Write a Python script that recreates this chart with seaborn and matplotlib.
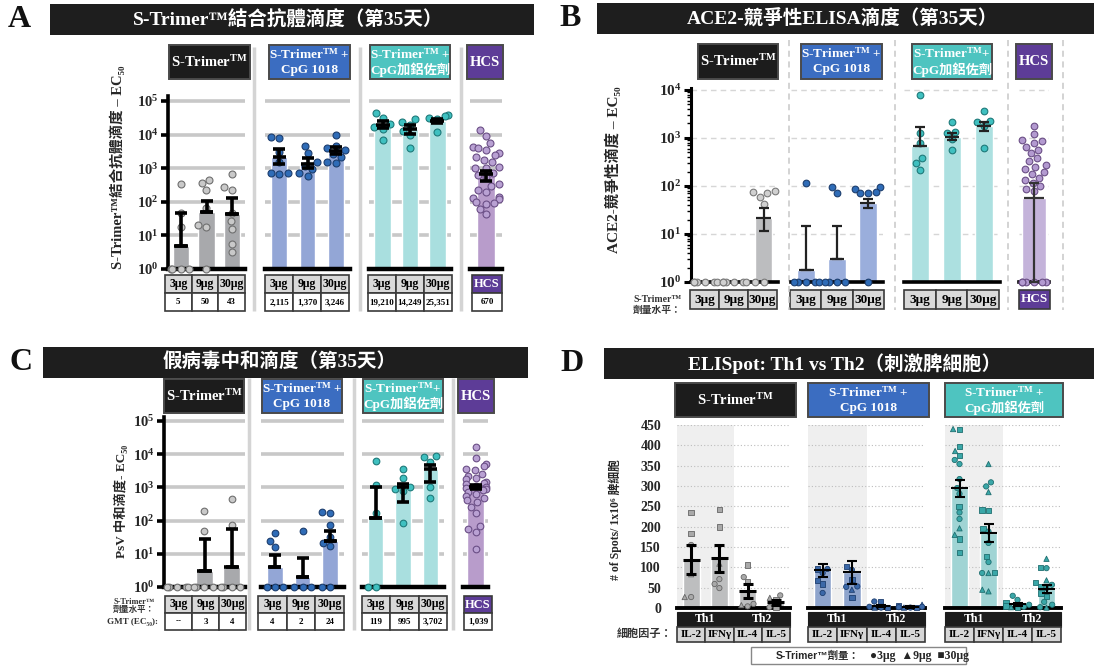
import numpy as np
import pandas as pd
import matplotlib
matplotlib.use("Agg")
import matplotlib.pyplot as plt
from matplotlib.patches import Rectangle
from matplotlib.markers import MarkerStyle
from matplotlib.ticker import LogLocator, NullFormatter, FixedLocator
import seaborn as sns

# ------------------------------------------------------------------ data
DOSES = ["3μg", "9μg", "30μg"]
HCS = ["HCS"]
CYTOKINES = ["IL-2", "IFNγ", "IL-4", "IL-5"]
TM = r"S-Trimer$^{\mathrm{TM}}$"
GROUP_NAMES = [[TM], [TM + " +", "CpG 1018"], [TM + " +", "CpG加鋁佐劑"], ["HCS"]]
GROUP_NAMES_BC = [[TM], [TM + " +", "CpG 1018"], [TM + "+", "CpG加鋁佐劑"], ["HCS"]]

# Panel A: S-Trimer binding antibody titre (EC50), day 35
A_GMT = [[5, 50, 43], [2115, 1370, 3246], [19210, 14249, 25351], [670]]
A_LOW = [[5, 50, 43], [1300, 1000, 2700], [15500, 10500, 21500], [420]]
A_HIGH = [[45, 105, 127], [3700, 1950, 4400], [25000, 19000, 30000], [800]]
A_TRIMER = [[350, 47, 18, 1, 1, 1, 1], [450, 360, 230, 65, 20, 18, 1],
            [660, 280, 225, 47, 26, 15, 5.4, 3.1]]
A_CPG = [[8500, 7800, 3000, 1500, 700, 660, 720], [4700, 2750, 1500, 1180, 940, 600, 700],
         [9800, 4700, 3900, 3500, 2650, 2200, 1500, 1400]]
A_ALUM = [[43000, 32000, 20500, 17000, 15000, 6900], [29000, 24000, 19000, 13000, 9700, 3900],
          [38000, 36000, 32000, 30000, 12000]]
A_HCS = [[13500, 8900, 5600, 4200, 4000, 3500, 2800, 2500, 2200, 1740, 1500, 1100, 1050, 1000,
          740, 630, 560, 350, 300, 225, 190, 140, 130, 120, 100, 95, 85, 60, 42]]

# Panel B: ACE2-competitive ELISA titre (EC50), day 35
B_MEAN = [[np.nan, np.nan, 22], [1.8, 3.0, 44], [680, 1070, 1800], [57]]
B_LOW = [[np.nan, np.nan, 11.5], [1.8, 3.0, 34], [680, 910, 1380], [1]]
B_HIGH = [[np.nan, np.nan, 35], [15, 15, 53], [1700, 1290, 2130], [115]]
B_TRIMER = [[1, 1, 1, 1, 1, 1], [1, 1, 1, 1, 1, 1], [80, 75, 72, 60, 43, 1, 1]]
B_CPG = [[117, 1, 1, 1, 1, 1], [93, 70, 1, 1, 1, 1], [96, 88, 76, 73, 70, 1]]
B_ALUM = [[7900, 1240, 770, 375, 295, 215], [2180, 1350, 1250, 930, 560],
          [3640, 2290, 2100, 1800, 630]]
B_HCS = [[1780, 1200, 910, 850, 800, 660, 560, 480, 380, 330, 275, 250, 225, 200, 178, 150,
          132, 115, 98, 85, 78, 1, 1, 1, 1, 1, 1]]

# Panel C: pseudovirus neutralising titre (EC50), day 35
C_GMT = [[np.nan, 3, 4], [4, 2, 24], [119, 995, 3702], [1039]]
C_LOW = [[np.nan, 3, 4], [4, 2, 24], [119, 355, 1480], [900]]
C_HIGH = [[np.nan, 27.5, 56], [9.3, 7.4, 49], [1050, 1300, 4570], [1200]]
C_TRIMER = [[1, 1, 1, 1, 1], [195, 49, 1, 1, 1, 1], [450, 74, 1, 1, 1, 1]]
C_CPG = [[42, 25, 16, 1, 1, 1], [50, 1, 1, 1], [178, 165, 74, 31, 21, 17, 1, 1]]
C_ALUM = [[6300, 1170, 166, 1, 1], [3700, 1860, 1050, 890, 790, 83],
          [8700, 8300, 5900, 1050, 470]]
C_HCS = [[16600, 7900, 5200, 4400, 3700, 3300, 2600, 2200, 1900, 1740, 1500, 1400, 1260, 1100,
          1000, 950, 900, 820, 740, 640, 560, 480, 420, 360, 260, 166, 69, 55, 44, 14]]

# Panel D: ELISpot spots per 1x10^6 splenocytes (mean, SEM limits, animals and their dose)
D_MEAN = [[119, 122, 43, 14], [94, 88, 4, 3], [295, 184, 9, 47]]
D_LOW = [[84, 88, 25, 8], [76, 59, 2, 1], [272, 162, 5, 38]]
D_HIGH = [[154, 156, 60, 20], [109, 115, 7, 5], [315, 206, 13, 57]]
D_TRIMER = [[235, 184, 155, 83, 27, 27], [243, 199, 109, 71, 59, 49],
            [106, 76, 64, 10, 7, 4], [31, 25, 20, 2, 2]]
D_TRIMER_DOSE = [[30, 30, 3, 9, 9, 3], [30, 30, 9, 3, 3, 3], [30, 3, 30, 3, 9, 3], [3, 9, 30, 30, 3]]
D_CPG = [[96, 86, 96, 67, 59, 37], [102, 94, 70, 52, 53, 45, 25], [16, 16, 3, 2, 1, 1],
         [8, 5, 3, 2, 1, 1, 2]]
D_CPG_DOSE = [[3, 3, 30, 30, 30, 3], [30, 3, 30, 3, 3, 9, 30], [30, 3, 3, 30, 9, 3],
              [9, 30, 3, 30, 9, 3, 3]]
D_ALUM = [[440, 439, 398, 386, 375, 364, 354, 317, 295, 281, 250, 235, 219, 196, 180, 170, 137],
          [354, 309, 299, 285, 241, 240, 196, 188, 160, 127, 113, 88, 86, 86, 45, 41],
          [30, 20, 12, 8, 5, 3, 2, 1],
          [121, 100, 98, 68, 63, 57, 53, 49, 37, 29, 15, 8, 2, 1]]
D_ALUM_DOSE = [[9, 30, 30, 9, 30, 3, 3, 3, 3, 3, 30, 3, 3, 9, 9, 30, 30],
               [9, 3, 3, 9, 30, 30, 30, 3, 3, 30, 3, 30, 3, 9, 9, 9],
               [3, 3, 30, 3, 30, 3, 9, 30],
               [9, 30, 3, 9, 30, 3, 30, 3, 30, 30, 3, 3, 3, 9]]

# ------------------------------------------------------------------ style
sns.set_style("white")
plt.rcParams["font.family"] = ["Liberation Serif", "Noto Sans CJK TC", "DejaVu Sans"]
plt.rcParams["font.weight"] = "bold"
plt.rcParams["mathtext.fontset"] = "custom"
plt.rcParams["mathtext.rm"] = "Liberation Serif:bold"
plt.rcParams["mathtext.it"] = "Liberation Serif:italic:bold"
plt.rcParams["mathtext.bf"] = "Liberation Serif:bold"

HEAD_COLORS = ["#1c1c1c", "#3b6dc1", "#4ec4c0", "#5d3c97"]
W, H = 1094, 667
fig = plt.figure(figsize=(W / 100, H / 100), dpi=100)
deco = fig.add_axes([0, 0, 1, 1], zorder=0)
deco.set_xlim(0, W)
deco.set_ylim(H, 0)
deco.set_axis_off()


def px_axes(x0, y0, x1, y1):
    ax = fig.add_axes([x0 / W, 1 - y1 / H, (x1 - x0) / W, (y1 - y0) / H], zorder=2)
    ax.set_facecolor("none")
    return ax


def box(x0, y0, x1, y1, fc, text="", tc="white", fs=10, ec="#4a4a4a", lw=1.4):
    deco.add_patch(Rectangle((x0, y0), x1 - x0, y1 - y0, facecolor=fc, edgecolor=ec, lw=lw))
    lines = text if isinstance(text, list) else ([text] if text else [])
    step = fs * 100 / 72 * 1.2
    yc = (y0 + y1) / 2 - step * (len(lines) - 1) / 2
    for k, line in enumerate(lines):
        deco.text((x0 + x1) / 2, yc + k * step, line, color=tc, fontsize=fs, ha="center",
                  va="center", fontweight="bold")


def cells(x0, x1, y0, y1, labels, fc="#d9d9d9", tc="black", fs=9):
    w = (x1 - x0) / len(labels)
    for i, lab in enumerate(labels):
        box(x0 + i * w, y0, x0 + (i + 1) * w, y1, fc, lab, tc, fs, ec="#3a3a3a", lw=1.2)


def title_bar(x0, y0, x1, y1, tx, text, letter, lx):
    deco.add_patch(Rectangle((x0, y0), x1 - x0, y1 - y0, facecolor="#1e1e1e", edgecolor="none"))
    deco.text(tx, (y0 + y1) / 2, text, color="white", fontsize=14, ha="center", va="center",
              fontweight="bold")
    deco.text(lx, (y0 + y1) / 2, letter, color="#111111", fontsize=23, ha="center",
              va="center", fontweight="bold")


def headers(spans, y0, y1, names, colors):
    for (x0, x1), name, col in zip(spans, names, colors):
        fs = 10.5 if len(name) == 1 else 9.5
        box(x0, y0, x1, y1, col, name, "white", fs)


def fmt_gmt(v):
    return "--" if np.isnan(v) else f"{int(v):,}"


def titre_group(ax, cats, mean, low, high, pts, bar_c, pt_c, pt_ec, width, psize, elw, cap,
                ylim, grid_kw, base_lw, err_c="black"):
    ax.set_yscale("log")
    sns.barplot(x=cats, y=mean, order=cats, color=bar_c, saturation=1, width=width,
                errorbar=None, ax=ax, zorder=1)
    df = pd.DataFrame({"dose": [c for c, p in zip(cats, pts) for _ in p],
                       "titre": [v for p in pts for v in p]})
    sns.swarmplot(data=df, x="dose", y="titre", order=cats, color=pt_c, edgecolor=pt_ec,
                  linewidth=0.8, size=psize, ax=ax, zorder=3, warn_thresh=1)
    x = np.arange(len(cats))
    g = np.asarray(mean, float)
    lo = np.asarray(low, float)
    hi = np.asarray(high, float)
    ax.errorbar(x, g, yerr=[g - lo, hi - g], fmt="none", ecolor=err_c, elinewidth=elw,
                capsize=cap, capthick=elw, zorder=4, clip_on=False)
    ax.hlines(g, x - width * 0.42, x + width * 0.42, colors=err_c, lw=elw, zorder=4)
    ax.set_xlim(-0.5, len(cats) - 0.5)
    ax.set_ylim(*ylim)
    ax.set_xlabel("")
    ax.set_ylabel("")
    ax.tick_params(axis="x", which="both", bottom=False, labelbottom=False)
    decades = [10.0 ** k for k in range(0, int(np.floor(np.log10(ylim[1]))) + 1)]
    ax.yaxis.set_major_locator(FixedLocator(decades))
    ax.yaxis.set_minor_locator(LogLocator(base=10, subs=np.arange(2, 10)))
    ax.yaxis.set_minor_formatter(NullFormatter())
    ax.set_axisbelow(True)
    ax.grid(axis="y", which="major", **grid_kw)
    ax.grid(axis="y", which="minor", visible=False)
    for s in ("top", "right", "left"):
        ax.spines[s].set_visible(False)
    ax.spines["bottom"].set_color("black")
    ax.spines["bottom"].set_linewidth(base_lw)
    ax.tick_params(axis="y", which="both", left=False, labelleft=False)
    for c in ax.collections:
        c.set_clip_on(False)
    return decades


def log_axis(ax, decades, fs, lw):
    ax.spines["left"].set_visible(True)
    ax.spines["left"].set_color("black")
    ax.spines["left"].set_linewidth(lw)
    ax.tick_params(axis="y", which="major", left=True, labelleft=True, length=5, width=lw,
                   direction="out", labelsize=fs, pad=2, color="black")
    ax.tick_params(axis="y", which="minor", left=True, length=3, width=1, color="black")
    ax.set_yticks(decades)
    ax.set_yticklabels([f"$10^{{{int(round(np.log10(d)))}}}$" for d in decades])


def titre_panel(xs, ytop, ybot, ylim, means, lows, highs, groups, bar_cs, pt_cs, pt_ecs,
                widths, psize, elw, cap, grid_kw, base_lw, tick_fs, spine_lw, err_cs):
    for i, (x0, x1) in enumerate(xs):
        cats = HCS if i == 3 else DOSES
        ax = px_axes(x0, ytop, x1, ybot)
        dec = titre_group(ax, cats, means[i], lows[i], highs[i], groups[i], bar_cs[i], pt_cs[i],
                          pt_ecs[i], widths[i], psize, elw, cap, ylim, grid_kw, base_lw, err_cs[i])
        if i == 0:
            log_axis(ax, dec, tick_fs, spine_lw)


# ------------------------------------------------------------------ panel A
title_bar(50, 4, 534, 35, 288, "S-Trimer™結合抗體滴度（第35天）", "A", 19)
headers([(169, 250), (269, 350), (370, 450), (467, 503)], 45, 79, GROUP_NAMES, HEAD_COLORS)
for xv in (254, 360, 461):
    deco.plot([xv, xv], [47, 311], color="#d4d4d4", lw=2.5, solid_capstyle="butt")
titre_panel([(168, 245), (265, 350), (369, 451), (470, 502)], 96, 269, (1, 10 ** 5.15),
            A_GMT, A_LOW, A_HIGH, [A_TRIMER, A_CPG, A_ALUM, A_HCS],
            ["#a8a9ac", "#93a6d6", "#a9dfdf", "#b89ccb"],
            ["#c9c9c9", "#2f6cb7", "#3fc0c0", "#b9a1d3"],
            ["#6f6f6f", "#1d3e6e", "#1f7a7a", "#6b4f86"],
            [0.64, 0.56, 0.62, 0.55], 5, 2.6, 4.5,
            dict(color="#c8c8c8", lw=2.6), 3.2, 10.5, 2.6,
            ["black", "black", "black", "black"])
deco.text(117, 167, "S-Trimer™結合抗體滴度 – EC₅₀", rotation=90, fontsize=10.5,
          ha="center", va="center", fontweight="bold")
for (x0, x1), gm in zip([(165, 245), (265, 349), (368, 452)], A_GMT[:3]):
    cells(x0, x1, 275, 293, DOSES, fs=8.5)
    cells(x0, x1, 293, 311, [fmt_gmt(v) for v in gm], fc="white", fs=6.5)
box(472, 275, 502, 293, HEAD_COLORS[3], "HCS", "white", 9, ec="#3a3a3a", lw=1.2)
cells(472, 502, 293, 311, [fmt_gmt(A_GMT[3][0])], fc="white", fs=6.5)

# ------------------------------------------------------------------ panel B
title_bar(597, 3, 1094, 34, 842, "ACE2-競爭性ELISA滴度（第35天）", "B", 570)
headers([(698, 778), (801, 882), (912, 992), (1016, 1052)], 44, 79, GROUP_NAMES_BC, HEAD_COLORS)
for xv in (789, 895, 1008, 1063):
    deco.plot([xv, xv], [40, 310], color="#c8c8c8", lw=1.1, ls=(0, (4, 3)))
titre_panel([(691, 778), (791, 883), (904, 1000), (1019, 1049)], 88, 282, (1, 10 ** 4.04),
            B_MEAN, B_LOW, B_HIGH, [B_TRIMER, B_CPG, B_ALUM, B_HCS],
            ["#bcbdbf", "#9aaedc", "#ace0e0", "#c4b3da"],
            ["#d0d0d0", "#2f6cb7", "#3fc0c0", "#b39ad0"],
            ["#7a7a7a", "#1d3e6e", "#1f7a7a", "#6b4f86"],
            [0.6, 0.58, 0.55, 0.78], 4.8, 1.6, 3.5,
            dict(color="#d6d6d6", lw=1.0, ls=(0, (4, 3))), 2.6, 11, 2.2,
            ["#222222", "#222222", "#222222", "#333333"])
deco.text(613, 170, "ACE2-競爭性滴度 – EC₅₀", rotation=90, fontsize=11,
          ha="center", va="center", fontweight="bold")
for x0, x1 in [(690, 777), (790, 884), (904, 999)]:
    cells(x0, x1, 290, 309, DOSES, fs=9.5)
box(1019, 290, 1050, 309, HEAD_COLORS[3], "HCS", "white", 9.5, ec="#3a3a3a", lw=1.2)
deco.text(633, 305, "S-Trimer™\n劑量水平：", fontsize=7, ha="left", va="center",
          fontweight="bold", color="#333333", linespacing=1.15)

# ------------------------------------------------------------------ panel C
title_bar(43, 347, 528, 378, 280, "假病毒中和滴度（第35天）", "C", 21)
headers([(164, 244), (262, 342), (363, 443), (458, 494)], 379, 413, GROUP_NAMES_BC, HEAD_COLORS)
for xv in (249, 354, 453):
    deco.plot([xv, xv], [378, 630], color="#d4d4d4", lw=2.5, solid_capstyle="butt")
titre_panel([(164, 245), (261, 344), (362, 444), (463, 488)], 417, 587, (1, 10 ** 5.12),
            C_GMT, C_LOW, C_HIGH, [C_TRIMER, C_CPG, C_ALUM, C_HCS],
            ["#a8a9ac", "#93a6d6", "#a9dfdf", "#b89ccb"],
            ["#c9c9c9", "#2f6cb7", "#3fc0c0", "#b9a1d3"],
            ["#6f6f6f", "#1d3e6e", "#1f7a7a", "#6b4f86"],
            [0.62, 0.56, 0.56, 0.66], 4.8, 2.6, 4.5,
            dict(color="#c8c8c8", lw=2.6), 3.2, 10.5, 2.6,
            ["black", "black", "black", "black"])
deco.text(121, 501, "PsV 中和滴度- EC₅₀", rotation=90, fontsize=9.5,
          ha="center", va="center", fontweight="bold")
for (x0, x1), gm in zip([(165, 246), (258, 344), (362, 447)], C_GMT[:3]):
    cells(x0, x1, 596, 613, DOSES, fs=8.5)
    cells(x0, x1, 613, 630, [fmt_gmt(v) for v in gm], fc="white", fs=6.5)
box(464, 596, 492, 613, HEAD_COLORS[3], "HCS", "white", 9, ec="#3a3a3a", lw=1.2)
cells(464, 492, 613, 630, [fmt_gmt(C_GMT[3][0])], fc="white", fs=6.5)
deco.text(134, 606, "S-Trimer™\n劑量水平：", fontsize=6, ha="center", va="center",
          fontweight="bold", color="#333333", linespacing=1.1)
deco.text(158, 622, "GMT (EC₅₀):", fontsize=6.5, ha="right", va="center",
          fontweight="bold", color="#333333")

# ------------------------------------------------------------------ panel D
title_bar(604, 348, 1094, 379, 845, "ELISpot: Th1 vs Th2（刺激脾細胞）", "D", 572)
headers([(675, 796), (808, 929), (945, 1063)], 383, 417, GROUP_NAMES[:3], HEAD_COLORS[:3])


def marker_path(m):
    ms = MarkerStyle(m)
    return ms.get_path().transformed(ms.get_transform())


DOSE_MARKERS = {3: marker_path("o"), 9: marker_path("^"), 30: marker_path("s")}

D_XS = [(677, 790), (808, 925), (945, 1061)]
D_BAR = ["#bdbebf", "#8ea4cc", "#a0d4d4"]
D_PT = ["#a9a9a9", "#3b68a8", "#3aa7a8"]
D_EC = ["#666666", "#1e3f70", "#1f6f70"]
for i, (vals, doses) in enumerate([(D_TRIMER, D_TRIMER_DOSE), (D_CPG, D_CPG_DOSE),
                                   (D_ALUM, D_ALUM_DOSE)]):
    x0, x1 = D_XS[i]
    ax = px_axes(x0, 425, x1, 608)
    ax.axvspan(-0.5, 1.5, color="#efefef", zorder=0, lw=0)
    sns.barplot(x=CYTOKINES, y=D_MEAN[i], order=CYTOKINES, color=D_BAR[i], saturation=1,
                width=0.6, errorbar=None, ax=ax, zorder=1)
    df = pd.DataFrame({"cytokine": [c for c, v in zip(CYTOKINES, vals) for _ in v],
                       "spots": [s for v in vals for s in v]})
    n0 = len(ax.collections)
    sns.swarmplot(data=df, x="cytokine", y="spots", order=CYTOKINES, color=D_PT[i],
                  edgecolor=D_EC[i], linewidth=0.6, size=3.8, ax=ax, zorder=3, warn_thresh=1)
    for coll, dl in zip(ax.collections[n0:], doses):
        coll.set_paths([DOSE_MARKERS[d] for d in dl])
        coll.set_clip_on(False)
    xx = np.arange(4)
    g = np.asarray(D_MEAN[i], float)
    elw = 2.2 if i == 0 else 1.5
    ax.errorbar(xx, g, yerr=[g - np.asarray(D_LOW[i]), np.asarray(D_HIGH[i]) - g], fmt="none",
                ecolor="black", elinewidth=elw, capsize=3.5, capthick=elw, zorder=4)
    ax.hlines(g, xx - 0.3, xx + 0.3, colors="black", lw=elw, zorder=4)
    ax.set_xlim(-0.5, 3.5)
    ax.set_ylim(0, 450)
    ax.set_yticks(np.arange(0, 451, 50))
    ax.set_xlabel("")
    ax.set_ylabel("")
    ax.set_axisbelow(True)
    ax.grid(axis="y", color="#bdbdbd", lw=0.8, ls=(0, (1, 2)))
    for s in ("top", "right", "left"):
        ax.spines[s].set_visible(False)
    ax.spines["bottom"].set_color("black")
    ax.spines["bottom"].set_linewidth(2.8)
    ax.tick_params(axis="x", bottom=False, labelbottom=False)
    if i == 0:
        ax.tick_params(axis="y", left=False, labelleft=True, labelsize=10, pad=8)
    else:
        ax.tick_params(axis="y", left=False, labelleft=False)
    # Th1 / Th2 headers and cytokine cells under each group
    xm = (x0 + x1) / 2
    box(x0, 612, xm, 627, "#1c1c1c", "Th1", "white", 8.5, ec="#1c1c1c", lw=0.8)
    box(xm, 612, x1, 627, "#1c1c1c", "Th2", "white", 8.5, ec="#1c1c1c", lw=0.8)
    cells(x0, x1, 627, 642, CYTOKINES, fc="#d6d6d6", fs=8)

deco.text(615, 520, "# of Spots/ 1x10⁶ 脾細胞", rotation=90, fontsize=8.5,
          ha="center", va="center", fontweight="bold")
deco.text(645, 634, "細胞因子：", fontsize=8, ha="center", va="center",
          fontweight="bold", color="#333333")
deco.add_patch(Rectangle((751, 647), 215, 17, facecolor="white", edgecolor="#888888", lw=1.0))
deco.text(776, 656, "S-Trimer™劑量：", fontsize=7.5, ha="left", va="center",
          family=["Liberation Sans", "Noto Sans CJK TC"], fontweight="bold")
deco.text(870, 656, "●3μg  ▲9μg  ■30μg", fontsize=8.5, ha="left", va="center",
          fontweight="bold")

fig.savefig("out.png", dpi=100)
